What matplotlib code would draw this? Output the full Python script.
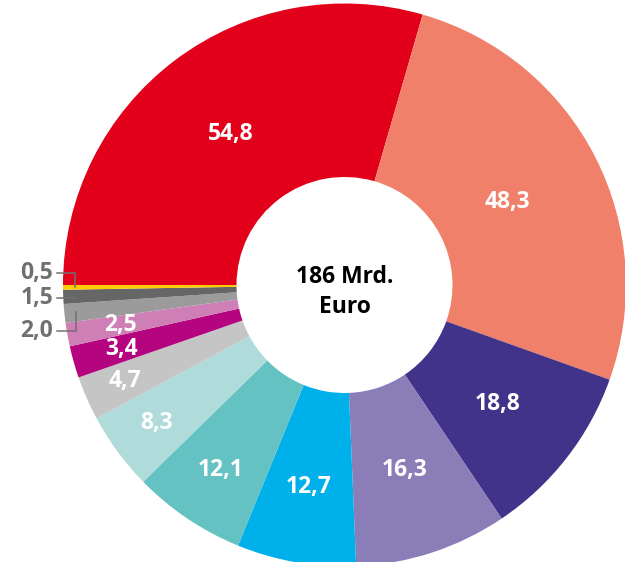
import numpy as np
import matplotlib.pyplot as plt

# Werte in Mrd. Euro, im Uhrzeigersinn ab links (9 Uhr)
werte = [54.8, 48.3, 18.8, 16.3, 12.7, 12.1, 8.3, 4.7, 3.4, 2.5, 2.0, 1.5, 0.5]
beschriftung = ["54,8", "48,3", "18,8", "16,3", "12,7", "12,1", "8,3",
                "4,7", "3,4", "2,5", "2,0", "1,5", "0,5"]
farben = ["#E2001A", "#F0806A", "#41338A", "#8A7DB8", "#00B0EA", "#64C2C3",
          "#AFDBDB", "#C5C5C5", "#B5047F", "#CE7FB5", "#9B9B9B", "#666666",
          "#FFCC00"]
mitte_text = ["186 Mrd.", "Euro"]

# Lage der Innenbeschriftung (Anteil am Radius)
lab_r = [0.67, 0.65, 0.69, 0.69, 0.73, 0.79, 0.83, 0.85, 0.825, 0.81]

W, H = 625, 562
cx, cy = 344.5, H - 285
R = 281.5
r_in = 108

schrift = "Open Sans"
fs = 16.5

fig = plt.figure(figsize=(W / 100, H / 100), dpi=100)
ax = fig.add_axes([0, 0, 1, 1])
wedges, _ = ax.pie(werte, colors=farben, startangle=180, counterclock=False,
                   radius=R, center=(cx, cy),
                   wedgeprops=dict(width=R - r_in, linewidth=0))
ax.set_xlim(0, W)
ax.set_ylim(0, H)
ax.set_aspect('equal')
ax.axis('off')

def mitte(w):
    return np.deg2rad((w.theta1 + w.theta2) / 2)

# Beschriftung im Ring
for i in range(len(lab_r)):
    a = mitte(wedges[i])
    x = cx + lab_r[i] * R * np.cos(a)
    y = cy + lab_r[i] * R * np.sin(a)
    ax.text(x, y, beschriftung[i], color="white", fontsize=fs,
            fontweight="bold", family=schrift, ha="center", va="center")

# kleine Segmente links mit Hinweislinien
grau = "#707070"
lx = 57
text_y = {10: H - 331, 11: None, 12: H - 273}
for i in [10, 11, 12]:
    a = mitte(wedges[i])
    ax_x = cx + 0.957 * R * np.cos(a)
    ax_y = cy + 0.957 * R * np.sin(a)
    ty = text_y[i]
    if ty is None:
        ty = ax_y - 2
        ax.plot([lx, ax_x], [ty, ty], color=grau, lw=1.1)
    else:
        ax.plot([lx, ax_x, ax_x], [ty, ty, ax_y], color=grau, lw=1.1)
    ax.text(lx - 4, ty, beschriftung[i], color=grau, fontsize=fs,
            fontweight="bold", family=schrift, ha="right", va="center")

ax.text(cx, cy + 8, mitte_text[0], color="black", fontsize=fs,
        fontweight="bold", family=schrift, ha="center", va="center")
ax.text(cx, cy - 22, mitte_text[1], color="black", fontsize=fs,
        fontweight="bold", family=schrift, ha="center", va="center")

fig.savefig("out.png", dpi=100)
